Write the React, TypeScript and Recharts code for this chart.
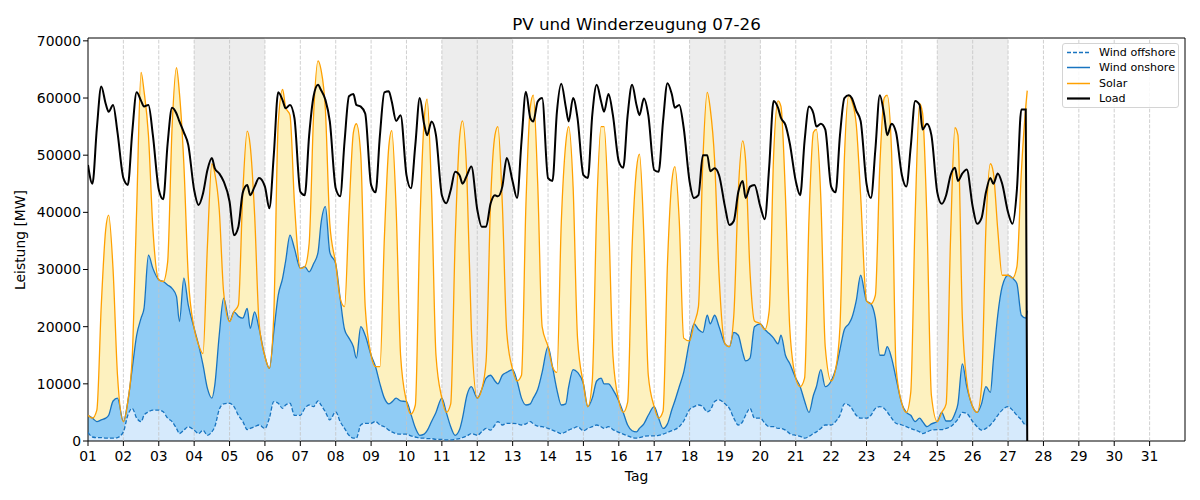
import {
  Area,
  ComposedChart,
  Line,
  ReferenceArea,
  ReferenceLine,
  XAxis,
  YAxis,
} from "recharts";

// sample hours within a day (the last day stops at 13:00)
const HOURS = [0, 3, 6, 9, 12, 14, 17, 20];
const LAST_DAY_HOURS = [0, 3, 6, 9, 12, 13];

// one row per day, values in MW
const load = [
  48300, 45000, 54700, 62000, 59000, 57600, 58800, 54000,
  46000, 44800, 54000, 61000, 59500, 58500, 58800, 53500,
  44000, 42300, 52000, 58300, 57300, 55900, 54000, 51800,
  43900, 41300, 43300, 47400, 49500, 47700, 46800, 45400,
  41900, 36000, 37500, 43500, 44800, 43000, 44500, 46000,
  44500, 40700, 50000, 61000, 59600, 58200, 58800, 56500,
  43600, 43000, 53500, 60300, 62300, 61400, 59700, 55900,
  44200, 42800, 52400, 60300, 60700, 58800, 58500, 57300,
  44800, 43500, 53500, 61000, 61200, 59400, 56000, 57000,
  46500, 44200, 51800, 60000, 55400, 53500, 55900, 53500,
  43000, 41600, 43900, 47100, 46500, 45000, 46500, 48000,
  40500, 37500, 37500, 41500, 43000, 42800, 44500, 49500,
  45400, 42500, 52400, 61100, 56500, 55900, 59400, 60000,
  46000, 45500, 57500, 62500, 58500, 55900, 60000, 56500,
  46500, 46000, 57000, 62300, 59400, 57600, 60700, 57000,
  48900, 47800, 57000, 62300, 58800, 57000, 59900, 57000,
  47400, 47100, 55900, 62600, 60600, 58300, 58800, 54800,
  45400, 42500, 43000, 50000, 50000, 47200, 47700, 46500,
  41000, 37800, 38500, 43500, 45500, 42500, 44500, 44800,
  41000, 38800, 48000, 59500, 58300, 56500, 55300, 52000,
  45500, 43000, 52500, 58500, 57300, 55000, 55500, 54500,
  44500, 43500, 53500, 60000, 60500, 60000, 57800, 56000,
  45000, 42500, 51000, 60500, 57000, 53500, 55500, 54000,
  46500, 44500, 51500, 59500, 58800, 54500, 55500, 53500,
  43500, 41500, 43000, 46500, 47800, 45500, 46800, 47500,
  41000, 38000, 39000, 43500, 46000, 45000, 46800, 45000,
  40000, 38000, 44000, 58000, 58000, 0,
];

const windOffshore = [
  1500, 700, 600, 600, 500, 500, 500, 600,
  1600, 4500, 5700, 4000, 3400, 4500, 5100, 5400,
  5400, 5100, 4000, 3400, 2200, 1300, 1900, 2500,
  1900, 1300, 1900, 1000, 1600, 2500, 5500, 6500,
  6600, 6000, 4500, 3400, 2000, 2200, 2500, 2800,
  2200, 4000, 6900, 6600, 5700, 6300, 6600, 4500,
  4500, 5700, 6300, 6000, 7000, 6300, 5100, 3700,
  5100, 3400, 2200, 1000, 500, 500, 2800, 3100,
  3100, 3400, 2800, 2500, 1900, 1600, 1300, 1200,
  1200, 900, 700, 500, 500, 400, 400, 300,
  300, 200, 200, 300, 400, 600, 900, 1300,
  1000, 1600, 2200, 1900, 2800, 3400, 2800, 3100,
  3100, 3000, 2800, 3000, 3400, 3000, 2600, 2500,
  2200, 1900, 1600, 1300, 1600, 1900, 2200, 2500,
  1800, 2200, 2500, 2800, 2500, 2200, 2500, 2000,
  1500, 1200, 900, 600, 500, 600, 800, 900,
  900, 1000, 1200, 1500, 1800, 2000, 2500, 3500,
  5500, 6000, 6300, 6000, 5100, 5400, 6900, 7200,
  6500, 5700, 4000, 2800, 3400, 4500, 5700, 4000,
  4000, 3100, 2500, 2500, 2200, 2200, 1900, 1300,
  1000, 800, 500, 800, 1300, 1600, 2200, 2800,
  2800, 3400, 4500, 6500, 6300, 5700, 4500, 4000,
  4000, 4500, 5700, 6000, 5700, 5100, 4000, 3100,
  2800, 2500, 2200, 1900, 1600, 1300, 1600, 1900,
  2000, 2000, 2200, 2500, 3200, 3800, 5000, 4800,
  3400, 2500, 1900, 2200, 2800, 3400, 4500, 5400,
  6000, 5400, 4500, 3700, 2800, 2800,
];

const windOnshore = [
  3000, 3300, 2800, 3100, 3500, 4000, 6500, 6900,
  1800, 2400, 7000, 14500, 18100, 18700, 27400, 24800,
  22800, 22800, 23300, 23300, 23100, 19600, 26600, 21300,
  17800, 15500, 11400, 8200, 5900, 7300, 13000, 18500,
  14300, 16600, 17300, 18100, 21200, 17500, 20100, 16900,
  12600, 8700, 12200, 18900, 22800, 25100, 29400, 29200,
  25700, 24800, 23300, 25000, 26000, 31700, 35900, 29300,
  25900, 21600, 17300, 17000, 16000, 14000, 17200, 15400,
  11900, 9600, 7200, 5000, 4600, 5200, 6200, 5800,
  5700, 3800, 1600, 500, 700, 1400, 3000, 4700,
  7200, 4800, 2300, 700, 1600, 3400, 7100, 8200,
  6500, 7400, 8800, 9600, 7700, 6600, 8700, 8900,
  9400, 7500, 4700, 3300, 3100, 4500, 6400, 9500,
  14300, 11100, 7400, 5000, 4900, 7600, 10300, 9500,
  8200, 3800, 5000, 7700, 8500, 7800, 7500, 7000,
  5500, 3800, 1900, 1200, 1100, 1600, 2200, 3600,
  5100, 3000, 1000, 1500, 3700, 5000, 7000, 8500,
  12000, 14500, 13200, 13000, 16900, 15100, 15100, 12800,
  10500, 10800, 15000, 15700, 12100, 9500, 8800, 16000,
  16500, 16400, 16300, 15500, 14800, 16300, 13100, 12200,
  10000, 8700, 6500, 4200, 6700, 7900, 10300, 6700,
  7700, 9100, 11500, 13000, 14200, 15800, 20000, 25000,
  20500, 19500, 15800, 9000, 9300, 11400, 10500, 7900,
  3700, 2500, 2300, 1500, 2400, 2100, 900, 1100,
  1400, 3000, 1300, 1000, 1600, 2700, 8500, 4700,
  2600, 2500, 4600, 7300, 5700, 10600, 17500, 21600,
  23000, 23100, 23000, 18300, 18700, 20000,
];

const solar = [
  0, 0, 2000, 20000, 33000, 35000, 23000, 4000,
  0, 0, 2000, 22000, 43000, 38000, 21000, 7000,
  0, 0, 4000, 28000, 40000, 40000, 20000, 5000,
  0, 0, 2000, 25000, 41000, 37000, 22000, 1000,
  0, 0, 2000, 22000, 31000, 32000, 17000, 1000,
  0, 0, 3000, 30000, 33000, 27000, 21000, 8000,
  0, 0, 5000, 26000, 33500, 27000, 17000, 5000,
  0, 0, 4000, 22000, 37500, 41000, 30000, 5000,
  0, 0, 3000, 28000, 45000, 47500, 33000, 8000,
  0, 0, 4000, 36000, 55000, 58000, 40000, 10000,
  0, 0, 4000, 34000, 51000, 52000, 38000, 10000,
  0, 0, 3000, 30000, 43000, 45000, 30000, 7000,
  0, 0, 4000, 35000, 52000, 53000, 36000, 8000,
  0, 0, 3000, 32000, 45500, 45500, 32000, 6000,
  0, 0, 3000, 30000, 44000, 45000, 30000, 6000,
  0, 0, 4000, 32000, 46000, 48000, 33000, 7000,
  0, 0, 3000, 28000, 40000, 41000, 29000, 6000,
  0, 0, 4000, 30000, 39000, 37700, 27000, 9000,
  0, 0, 3000, 25000, 37000, 35000, 15000, 1000,
  0, 0, 4000, 32000, 42500, 40000, 28000, 6000,
  0, 0, 4000, 34000, 46000, 45000, 30000, 7000,
  0, 0, 4000, 30000, 40000, 38000, 31000, 14000,
  0, 0, 4000, 33000, 45000, 44000, 36000, 2000,
  0, 0, 4000, 36000, 55000, 54000, 36000, 5000,
  0, 0, 3000, 32000, 50000, 47000, 8000, 1000,
  0, 0, 3000, 28000, 40000, 33000, 15000, 2000,
  0, 0, 3000, 25000, 37000, 38500,
];

const DAY_TICKS = Array.from({ length: 31 }, (_, i) => i);
const Y_TICKS = [0, 10000, 20000, 30000, 40000, 50000, 60000, 70000];
// Saturday/Sunday spans (day offsets from 1 July)
const WEEKENDS = [
  [3, 5],
  [10, 12],
  [17, 19],
  [24, 26],
];

const Y_MAX = 70500;
const BLUE = "#1874c0";
const ORANGE = "#ffa000";

const rows: any[] = [];
let idx = 0;
for (let d = 0; d < 27; d++) {
  const hrs = d < 26 ? HOURS : LAST_DAY_HOURS;
  for (const h of hrs) {
    const off = windOffshore[idx];
    const on = windOnshore[idx];
    const pv = solar[idx];
    rows.push({
      t: d + h / 24,
      off,
      on,
      pv,
      onTop: off + on,
      pvTop: off + on + pv,
      load: load[idx],
    });
    idx++;
  }
}

const legendItems = [
  { name: "Wind offshore", color: BLUE, width: 1.5, dash: "4 2" },
  { name: "Wind onshore", color: BLUE, width: 1.5, dash: undefined },
  { name: "Solar", color: ORANGE, width: 1.5, dash: undefined },
  { name: "Load", color: "#000", width: 2.2, dash: undefined },
];

const tickStyle = { fill: "#000", fontSize: 13.9 };

export default function App() {
  return (
    <div
      style={{
        position: "absolute",
        left: 0,
        top: 0,
        width: 1200,
        height: 500,
        background: "#fff",
        fontFamily: '"DejaVu Sans", sans-serif',
      }}
    >
      <ComposedChart
        width={1200}
        height={500}
        data={rows}
        margin={{ top: 38, right: 15, bottom: 0, left: 0 }}
      >
        <XAxis
          dataKey="t"
          type="number"
          domain={[0, 31]}
          ticks={DAY_TICKS}
          interval={0}
          allowDataOverflow
          tickFormatter={(v) => String(v + 1).padStart(2, "0")}
          height={59}
          tickSize={5}
          tickMargin={5}
          axisLine={false}
          tickLine={{ stroke: "#000" }}
          tick={tickStyle}
        />
        <YAxis
          type="number"
          domain={[0, Y_MAX]}
          ticks={Y_TICKS}
          allowDataOverflow
          width={88}
          tickSize={5}
          tickMargin={2}
          axisLine={false}
          tickLine={{ stroke: "#000" }}
          tick={tickStyle}
        />
        {WEEKENDS.map(([a, b]) => (
          <ReferenceArea
            key={`we-${a}`}
            x1={a}
            x2={b}
            y1={0}
            y2={Y_MAX}
            fill="#000"
            fillOpacity={0.07}
            stroke="none"
          />
        ))}
        <Area
          dataKey="off"
          stackId="gen"
          type="monotone"
          fill="#d6eafc"
          fillOpacity={1}
          stroke="none"
          isAnimationActive={false}
        />
        <Area
          dataKey="on"
          stackId="gen"
          type="monotone"
          fill="#90ccf5"
          fillOpacity={1}
          stroke="none"
          isAnimationActive={false}
        />
        <Area
          dataKey="pv"
          stackId="gen"
          type="monotone"
          fill="#fdf1bf"
          fillOpacity={1}
          stroke="none"
          isAnimationActive={false}
        />
        {DAY_TICKS.slice(1).map((d) => (
          <ReferenceLine
            key={`grid-${d}`}
            x={d}
            stroke="#c4c4c4"
            strokeWidth={0.8}
            strokeDasharray="3.7 1.6"
          />
        ))}
        <Line
          dataKey="off"
          type="monotone"
          stroke={BLUE}
          strokeWidth={1.3}
          strokeDasharray="4 2"
          dot={false}
          activeDot={false}
          isAnimationActive={false}
        />
        <Line
          dataKey="onTop"
          type="monotone"
          stroke={BLUE}
          strokeWidth={1.3}
          dot={false}
          activeDot={false}
          isAnimationActive={false}
        />
        <Line
          dataKey="pvTop"
          type="monotone"
          stroke={ORANGE}
          strokeWidth={1.3}
          dot={false}
          activeDot={false}
          isAnimationActive={false}
        />
        <Line
          dataKey="load"
          type="monotone"
          stroke="#000"
          strokeWidth={2}
          dot={false}
          activeDot={false}
          isAnimationActive={false}
        />
        <ReferenceArea
          x1={0}
          x2={31}
          y1={0}
          y2={Y_MAX}
          fill="none"
          stroke="#000"
          strokeWidth={1}
        />
      </ComposedChart>

      <div
        style={{
          position: "absolute",
          left: 88,
          width: 1097,
          top: 15.5,
          fontSize: 16.7,
          lineHeight: "16.7px",
          textAlign: "center",
        }}
      >
        PV und Winderzeugung 07-26
      </div>
      <div
        style={{
          position: "absolute",
          left: 88,
          width: 1097,
          top: 470,
          fontSize: 13.9,
          lineHeight: "13.9px",
          textAlign: "center",
        }}
      >
        Tag
      </div>
      <div
        style={{
          position: "absolute",
          left: -80,
          top: 233,
          width: 200,
          height: 14,
          fontSize: 13.9,
          lineHeight: "14px",
          textAlign: "center",
          transform: "rotate(-90deg)",
        }}
      >
        Leistung [MW]
      </div>

      <div
        style={{
          position: "absolute",
          left: 1062,
          top: 43,
          width: 117,
          height: 65,
          boxSizing: "border-box",
          border: "1px solid #d4d4d4",
          borderRadius: 3,
          background: "rgba(255,255,255,0.85)",
          fontSize: 11.1,
        }}
      >
        {legendItems.map((it, i) => (
          <div
            key={it.name}
            style={{
              position: "absolute",
              left: 0,
              top: 1 + i * 15.4,
              height: 15,
              display: "flex",
              alignItems: "center",
            }}
          >
            <svg width={36} height={15} style={{ display: "block" }}>
              <line
                x1={4}
                x2={27}
                y1={7.5}
                y2={7.5}
                stroke={it.color}
                strokeWidth={it.width}
                strokeDasharray={it.dash}
              />
            </svg>
            <span style={{ whiteSpace: "nowrap" }}>{it.name}</span>
          </div>
        ))}
      </div>
    </div>
  );
}
